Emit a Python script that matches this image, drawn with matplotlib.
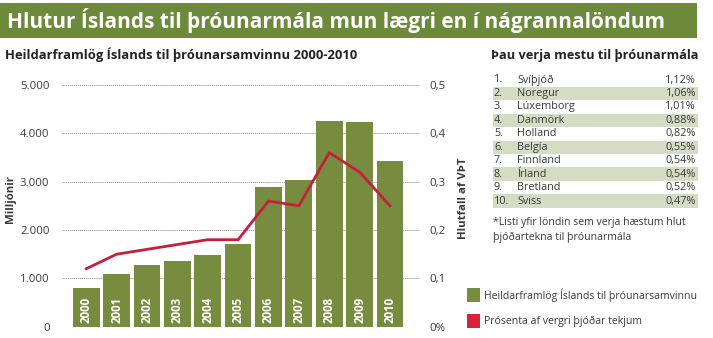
import matplotlib
matplotlib.use("Agg")
import matplotlib.pyplot as plt
from matplotlib.patches import Rectangle

plt.rcParams['font.family'] = ['Open Sans', 'DejaVu Sans']

years = ['2000', '2001', '2002', '2003', '2004', '2005', '2006', '2007', '2008', '2009', '2010']
framlog = [800, 1100, 1270, 1350, 1480, 1710, 2880, 3030, 4260, 4240, 3430]
hlutfall = [0.12, 0.15, 0.16, 0.17, 0.18, 0.18, 0.26, 0.25, 0.36, 0.32, 0.25]
left_ticks = [0, 1000, 2000, 3000, 4000, 5000]
left_labels = ['0', '1.000', '2.000', '3.000', '4.000', '5.000']
right_ticks = [0, 0.1, 0.2, 0.3, 0.4, 0.5]
right_labels = ['0%', '0,1', '0,2', '0,3', '0,4', '0,5']

rank = ['1.', '2.', '3.', '4.', '5.', '6.', '7.', '8.', '9.', '10.']
countries = ['Svíþjóð', 'Noregur', 'Lúxemborg', 'Danmörk', 'Holland', 'Belgía',
             'Finnland', 'Írland', 'Bretland', 'Sviss']
shares = ['1,12%', '1,06%', '1,01%', '0,88%', '0,82%', '0,55%', '0,54%', '0,54%', '0,52%', '0,47%']

GREEN = '#778c3e'
HEAD = '#6d8a3b'
RED = '#c4203b'
TXT = '#3a3a3a'

W, H = 713, 338
fig = plt.figure(figsize=(W / 100, H / 100), dpi=100)
fig.patch.set_facecolor('white')

def fx(x):
    return x / W

def fy(y):
    return 1 - y / H

# header band
fig.patches.append(Rectangle((0, fy(38)), fx(697), 35 / H, transform=fig.transFigure,
                             facecolor=HEAD, edgecolor='none', zorder=0))
fig.text(fx(7), fy(20.5), 'Hlutur Íslands til þróunarmála mun lægri en í nágrannalöndum',
         color='white', fontsize=15, fontweight='bold', va='center', ha='left')

fig.text(fx(5), fy(55), 'Heildarframlög Íslands til þróunarsamvinnu 2000-2010',
         color='#222222', fontsize=9.4, fontweight='bold', va='center', ha='left')
fig.text(fx(491), fy(55), 'Þau verja mestu til þróunarmála',
         color='#222222', fontsize=9.2, fontweight='bold', va='center', ha='left')

# main chart
ax = fig.add_axes([fx(62), fy(326.7), fx(420 - 62), (326.7 - 85) / H])
x = list(range(len(years)))
ax.bar(x, framlog, width=0.88, color=GREEN, zorder=2)
for i, y in enumerate(years):
    ax.text(i, 70, y, rotation=90, ha='center', va='bottom', color='white',
            fontsize=8.3, fontweight='bold', zorder=3)
ax.set_xlim(-0.8, 10.99)
ax.set_ylim(0, 5000)
ax.set_yticks(left_ticks)
ax.set_yticklabels(left_labels)
ax.set_xticks([])
ax.tick_params(axis='y', length=0, pad=9, labelsize=8.2, labelcolor=TXT)
ax.grid(axis='y', linestyle=(0, (1, 1)), color='#888888', linewidth=0.7, zorder=1)
for s in ax.spines.values():
    s.set_visible(False)
ax.set_ylabel('Milljónir', fontsize=8.2, fontweight='bold', color=TXT)
ax.yaxis.set_label_coords(-0.128, 0.53)

ax2 = ax.twinx()
ax2.plot(x, hlutfall, color=RED, linewidth=2, zorder=4)
ax2.set_ylim(0, 0.5)
ax2.set_yticks(right_ticks)
ax2.set_yticklabels(right_labels)
ax2.tick_params(axis='y', length=0, pad=7, labelsize=8.2, labelcolor=TXT)
for s in ax2.spines.values():
    s.set_visible(False)
ax2.set_ylabel('Hlutfall af VÞT', fontsize=8.2, fontweight='bold', color=TXT, rotation=90)
ax2.yaxis.set_label_coords(1.105, 0.53)

# ranking table
row0 = 80
step = 13.45
for i in range(len(countries)):
    yc = row0 + i * step
    if i % 2 == 1:
        fig.patches.append(Rectangle((fx(493), fy(yc + step / 2)), fx(698 - 493), step / H,
                                     transform=fig.transFigure, facecolor='#d6dcc4',
                                     edgecolor='none', zorder=0))
    fig.text(fx(494), fy(yc), rank[i], fontsize=7.8, color=TXT, va='center', ha='left')
    fig.text(fx(517), fy(yc), countries[i], fontsize=7.8, color=TXT, va='center', ha='left')
    fig.text(fx(696), fy(yc), shares[i], fontsize=7.8, color=TXT, va='center', ha='right')

fig.text(fx(493), fy(223), '*Listi yfir löndin sem verja hæstum hlut', fontsize=7.6,
         color=TXT, va='center', ha='left')
fig.text(fx(493), fy(237), 'þjóðartekna til þróunarmála', fontsize=7.6,
         color=TXT, va='center', ha='left')

# legend
fig.patches.append(Rectangle((fx(467), fy(302)), fx(13), 14 / H, transform=fig.transFigure,
                             facecolor=GREEN, edgecolor='none'))
fig.text(fx(484), fy(295), 'Heildarframlög Íslands til þróunarsamvinnu', fontsize=7.6,
         color=TXT, va='center', ha='left')
fig.patches.append(Rectangle((fx(467), fy(328)), fx(13), 14 / H, transform=fig.transFigure,
                             facecolor='#d8213a', edgecolor='none'))
fig.text(fx(484), fy(321), 'Prósenta af vergri þjóðar tekjum', fontsize=7.6,
         color=TXT, va='center', ha='left')

fig.savefig('out.png', dpi=100, facecolor='white')
